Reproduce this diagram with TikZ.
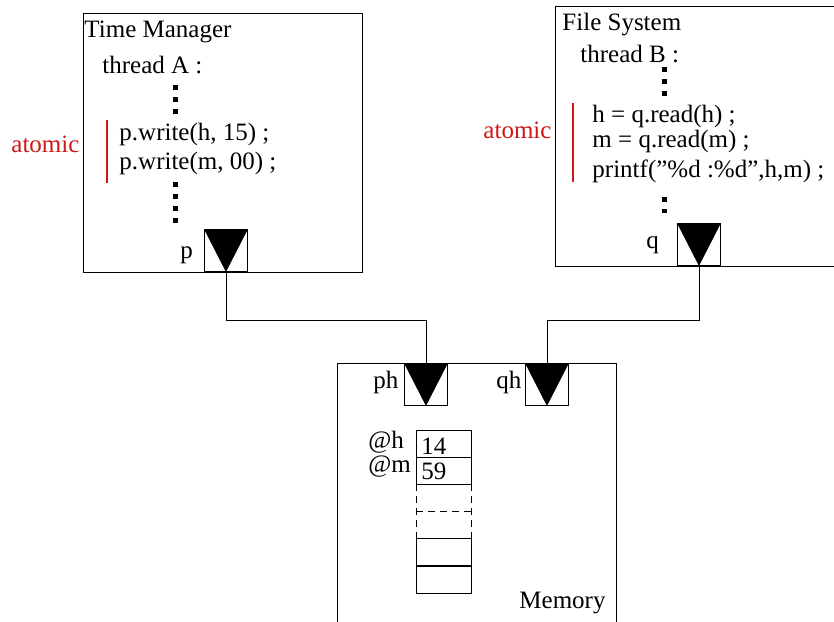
\documentclass[tikz,border=0pt]{standalone}
\usepackage{fontspec}
\setmainfont{Liberation Serif}
\definecolor{atomred}{RGB}{208,22,22}
\begin{document}
\begin{tikzpicture}[x=1pt,y=-1pt,line width=0.9pt,
  txt/.style={anchor=base west,inner sep=0pt,font=\fontsize{25}{30}\selectfont},
  port/.style={draw,minimum width=43pt,minimum height=42pt,inner sep=0pt,anchor=south west},
  vdots/.style={line width=5pt,dash pattern=on 5pt off 7pt},
  atombar/.style={draw=atomred,line width=1.3pt},
  cell/.style={draw,minimum width=55pt,minimum height=27pt,inner sep=0pt,anchor=north west},
  wire/.style={draw,line width=0.9pt}]
\useasboundingbox (0,0) rectangle (834,621);

% ---- Time Manager ----
\node[draw,minimum width=279pt,minimum height=259pt,inner sep=0pt,anchor=north west] (tm) at (83,13) {};
\node[txt] (tmname) at (84,37) {Time Manager};
\node[txt] (thA) at (102,73) {thread A :};
\draw[vdots] (175,85) -- (175,116);
\draw[atombar] (107,120) -- (107,183);
\node[txt] (wh) at (119,140) {p.write(h, 15) ;};
\node[txt] (wm) at (119,169) {p.write(m, 00) ;};
\draw[vdots] (175,182) -- (175,224);
\node[txt,text=atomred] (atomA) at (11,152) {atomic};
\node[port] (p) at (204,272) {};
\fill (p.north west) -- (p.north east) -- (p.south) -- cycle;
\node[txt] (plab) at (180,258) {p};

% ---- File System ----
\draw (850,6) -- (555,6) -- (555,266) -- (850,266);
\node[txt] (fsname) at (562,30) {File System};
\node[txt] (thB) at (580,62) {thread B :};
\draw[vdots] (664,67) -- (664,98);
\draw[atombar] (573,103) -- (573,182);
\node[txt] (rh) at (592,122) {h = q.read(h) ;};
\node[txt] (rm) at (592,147) {m = q.read(m) ;};
\node[txt] (pf) at (592,177) {printf(”\%d :\%d”,h,m) ;};
\draw[vdots] (664,197) -- (664,213);
\node[txt,text=atomred] (atomB) at (483,138) {atomic};
\node[port] (q) at (677,266) {};
\fill (q.north west) -- (q.north east) -- (q.south) -- cycle;
\node[txt] (qlab) at (646,248) {q};

% ---- Memory ----
\draw (337,630) -- (337,363) -- (616,363) -- (616,630);
\node[port] (ph) at (404,406) {};
\fill (ph.north west) -- (ph.north east) -- (ph.south) -- cycle;
\node[txt] (phlab) at (373,388) {ph};
\node[port] (qh) at (525,406) {};
\fill (qh.north west) -- (qh.north east) -- (qh.south) -- cycle;
\node[txt] (qhlab) at (496,388) {qh};

\node[cell] (c1) at (416,430) {};
\node[cell] (c2) at (416,457) {};
\draw[dashed,dash pattern=on 7pt off 5pt] (416,484) -- (416,538) (471,484) -- (471,538) (416,511) -- (471,511);
\node[cell] (c5) at (416,538) {};
\node[cell] (c6) at (416,566) {};
\node[txt] (v14) at (421,454) {14};
\node[txt] (v59) at (421,479) {59};
\node[txt] (ah) at (368,448) {@h};
\node[txt] (am) at (368,472) {@m};
\node[txt] (memname) at (519,608) {Memory};

% ---- wires ----
\draw[wire] (p.south) -- (p.south |- 0,320) -| (ph.north);
\draw[wire] (q.south) -- (q.south |- 0,320) -| (qh.north);
\end{tikzpicture}
\end{document}
